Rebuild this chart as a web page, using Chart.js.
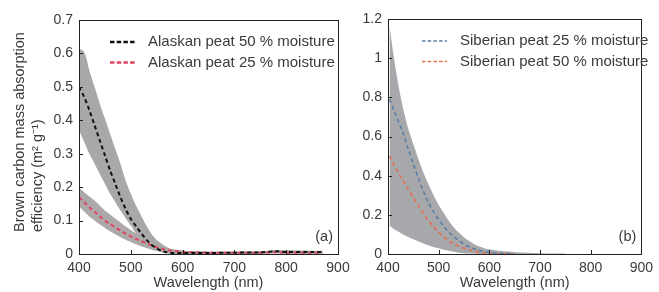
<!DOCTYPE html>
<html>
<head>
<meta charset="utf-8">
<script src="https://cdn.jsdelivr.net/npm/chart.js@4.4.1/dist/chart.umd.min.js"></script>
<style>
  html, body { margin: 0; padding: 0; background: #fff; }
  body { width: 659px; height: 292px; position: relative; overflow: hidden; }
  #chartA { position: absolute; left: 0; top: 0; }
  #chartB { position: absolute; left: 340px; top: 0; }
</style>
</head>
<body>
<canvas id="chartA" width="360" height="292"></canvas>
<canvas id="chartB" width="319" height="292"></canvas>
<script>
// panel (a) - Alaskan peat
const wavelengthA = [400, 410, 420, 430, 440, 450, 460, 470, 480, 490, 500, 510, 520, 530, 540, 550, 560, 570, 580, 600, 620, 650, 700, 750, 780, 800, 850, 870];
const alaskan50 = [0.50, 0.47, 0.43, 0.385, 0.34, 0.295, 0.25, 0.21, 0.17, 0.135, 0.105, 0.083, 0.062, 0.043, 0.028, 0.017, 0.009, 0.005, 0.003, 0.003, 0.003, 0.003, 0.004, 0.005, 0.008, 0.006, 0.006, 0.006];
const alaskan50Upper = [0.615, 0.605, 0.55, 0.50, 0.45, 0.405, 0.36, 0.315, 0.27, 0.22, 0.18, 0.145, 0.115, 0.085, 0.06, 0.042, 0.03, 0.02, 0.014, 0.01, 0.008, 0.007, 0.007, 0.008, 0.012, 0.011, 0.01, 0.01];
const alaskan50Lower = [0.37, 0.335, 0.30, 0.27, 0.24, 0.21, 0.18, 0.155, 0.13, 0.107, 0.085, 0.062, 0.045, 0.03, 0.018, 0.011, 0.005, 0.002, 0, 0, 0, 0, 0, 0.001, 0.002, 0.002, 0.002, 0.002];
const alaskan25 = [0.17, 0.155, 0.14, 0.127, 0.113, 0.10, 0.09, 0.08, 0.07, 0.061, 0.053, 0.045, 0.039, 0.032, 0.026, 0.02, 0.016, 0.012, 0.01, 0.007, 0.005, 0.004, 0.004, 0.004, 0.005, 0.004, 0.004, 0.004];
const alaskan25Upper = [0.198, 0.185, 0.172, 0.16, 0.145, 0.13, 0.118, 0.106, 0.094, 0.082, 0.072, 0.062, 0.052, 0.044, 0.035, 0.028, 0.022, 0.018, 0.014, 0.01, 0.008, 0.007, 0.007, 0.007, 0.008, 0.007, 0.007, 0.007];
const alaskan25Lower = [0.142, 0.127, 0.112, 0.10, 0.088, 0.078, 0.068, 0.059, 0.05, 0.043, 0.036, 0.029, 0.023, 0.018, 0.013, 0.009, 0.006, 0.004, 0.003, 0.002, 0.002, 0.001, 0.001, 0.001, 0.002, 0.001, 0.001, 0.001];

// panel (b) - Siberian peat
const wavelengthB = [403, 410, 420, 430, 440, 450, 460, 470, 480, 490, 500, 510, 520, 530, 540, 550, 560, 570, 580, 590, 600, 620, 650, 700, 750];
const siberian25 = [0.79, 0.745, 0.68, 0.615, 0.535, 0.46, 0.385, 0.32, 0.26, 0.215, 0.175, 0.14, 0.112, 0.088, 0.068, 0.05, 0.037, 0.027, 0.018, 0.012, 0.008, 0.003, 0.001, null, null];
const siberian50 = [0.50, 0.465, 0.415, 0.375, 0.33, 0.29, 0.245, 0.205, 0.17, 0.14, 0.112, 0.088, 0.066, 0.052, 0.04, 0.03, 0.022, 0.015, 0.009, 0.005, 0.003, 0.001, 0, null, null];
const siberianUpper = [1.17, 1.03, 0.87, 0.74, 0.64, 0.56, 0.485, 0.415, 0.355, 0.30, 0.25, 0.21, 0.17, 0.135, 0.108, 0.085, 0.066, 0.05, 0.038, 0.03, 0.024, 0.016, 0.009, 0.004, 0.002];
const siberianLower = [0.145, 0.13, 0.115, 0.10, 0.087, 0.075, 0.064, 0.054, 0.045, 0.036, 0.029, 0.022, 0.016, 0.011, 0.007, 0.004, 0.002, 0.001, 0, 0, 0, 0, 0, 0, 0];

const xTicks = [400, 500, 600, 700, 800, 900];
const yTicksA = [0, 0.1, 0.2, 0.3, 0.4, 0.5, 0.6, 0.7];
const yTicksB = [0, 0.2, 0.4, 0.6, 0.8, 1, 1.2];

const FONT = 'Liberation Sans, Arial, sans-serif';
const TEXT = '#3a3a3a';

function pts(xs, ys) {
  return xs.map((x, i) => ({ x: x, y: ys[i] }));
}

function line(label, xs, ys, color, width) {
  return {
    label: label, legend: true,
    data: pts(xs, ys),
    borderColor: color, borderWidth: width, borderDash: [4, 3],
    pointRadius: 0, fill: false, tension: 0.3, order: 0, spanGaps: false
  };
}

function band(xs, upper, lower, color) {
  return [
    { data: pts(xs, upper), borderWidth: 0, pointRadius: 0, fill: '+1', backgroundColor: color, tension: 0.3, order: 1 },
    { data: pts(xs, lower), borderWidth: 0, pointRadius: 0, fill: false, tension: 0.3, order: 1 }
  ];
}

// frame, inward ticks, legend inside the plot and panel letter
const panelDecor = {
  id: 'panelDecor',
  afterDraw(chart, args, opts) {
    const { ctx, chartArea: a, scales: { x, y } } = chart;
    ctx.save();
    ctx.strokeStyle = '#222';
    ctx.lineWidth = 1;
    ctx.beginPath();
    x.ticks.forEach(t => {
      const px = Math.round(x.getPixelForValue(t.value)) + 0.5;
      ctx.moveTo(px, a.bottom);
      ctx.lineTo(px, a.bottom - 4);
    });
    y.ticks.forEach(t => {
      const py = Math.round(y.getPixelForValue(t.value)) + 0.5;
      ctx.moveTo(a.left, py);
      ctx.lineTo(a.left + 4, py);
    });
    ctx.stroke();
    ctx.strokeRect(Math.round(a.left) + 0.5, Math.round(a.top) + 0.5, Math.round(a.width), Math.round(a.height));

    ctx.font = '15px ' + FONT;
    ctx.textBaseline = 'middle';
    ctx.textAlign = 'left';
    chart.data.datasets.filter(d => d.legend).forEach((d, i) => {
      const ly = opts.legendY + i * 20.5;
      ctx.setLineDash(opts.legendDash);
      ctx.lineWidth = opts.legendWidth;
      ctx.strokeStyle = d.borderColor;
      ctx.beginPath();
      ctx.moveTo(opts.legendX, ly);
      ctx.lineTo(opts.legendX + 25, ly);
      ctx.stroke();
      ctx.setLineDash([]);
      ctx.fillStyle = TEXT;
      ctx.fillText(d.label, opts.legendX + 38, ly);
    });

    ctx.font = '14.5px ' + FONT;
    ctx.textAlign = 'right';
    ctx.fillText(opts.letter, a.right - 5, 237);

    if (opts.yTitle) {
      ctx.translate(20, 232);
      ctx.rotate(-Math.PI / 2);
      ctx.textAlign = 'left';
      opts.yTitle.forEach((t, i) => ctx.fillText(t, 0, i * 18));
    }
    ctx.restore();
  }
};

function options(yTicks, yMax, yWidth, right, top, decor) {
  return {
    responsive: false,
    animation: false,
    events: [],
    layout: { autoPadding: false, padding: { left: 0, right: right, top: top, bottom: 0 } },
    plugins: { legend: { display: false }, tooltip: { enabled: false }, panelDecor: decor },
    scales: {
      x: {
        type: 'linear', min: 400, max: 900,
        afterBuildTicks: s => { s.ticks = xTicks.map(v => ({ value: v })); },
        afterFit: s => { s.height = 38; },
        grid: { display: false, drawTicks: false },
        border: { display: false },
        ticks: { color: TEXT, font: { family: FONT, size: 14 }, padding: 6, maxRotation: 0, autoSkip: false, callback: v => String(v) },
        title: { display: true, text: 'Wavelength (nm)', color: TEXT, font: { family: FONT, size: 14.5 }, padding: { top: 0, bottom: 0 } }
      },
      y: {
        type: 'linear', min: 0, max: yMax,
        afterBuildTicks: s => { s.ticks = yTicks.map(v => ({ value: v })); },
        afterFit: s => { s.width = yWidth; },
        grid: { display: false, drawTicks: false },
        border: { display: false },
        ticks: { color: TEXT, font: { family: FONT, size: 14 }, padding: 6, autoSkip: false, callback: v => String(v) }
      }
    }
  };
}

new Chart(document.getElementById('chartA'), {
  type: 'line',
  data: {
    datasets: [
      line('Alaskan peat 50 % moisture', wavelengthA, alaskan50, '#111111', 2),
      line('Alaskan peat 25 % moisture', wavelengthA, alaskan25, '#e0455f', 2),
      ...band(wavelengthA, alaskan50Upper, alaskan50Lower, '#a8a8a8'),
      ...band(wavelengthA, alaskan25Upper, alaskan25Lower, '#ada8aa')
    ]
  },
  options: options(yTicksA, 0.7, 79, 22, 20, {
    legendX: 110, legendY: 42, legendDash: [4.5, 2.2], legendWidth: 2.5, letter: '(a)',
    yTitle: ['Brown carbon mass absorption', 'efficiency (m\u00B2 g\u207B\u00B9)']
  }),
  plugins: [panelDecor]
});

new Chart(document.getElementById('chartB'), {
  type: 'line',
  data: {
    datasets: [
      line('Siberian peat 25 % moisture', wavelengthB, siberian25, '#5b7ea6', 1.6),
      line('Siberian peat 50 % moisture', wavelengthB, siberian50, '#e2704f', 1.6),
      ...band(wavelengthB, siberianUpper, siberianLower, '#a6a8ab')
    ]
  },
  options: options(yTicksB, 1.2, 48, 12, 19, {
    legendX: 82, legendY: 41, legendDash: [3.5, 2.2], legendWidth: 1.5, letter: '(b)'
  }),
  plugins: [panelDecor]
});
</script>
</body>
</html>
